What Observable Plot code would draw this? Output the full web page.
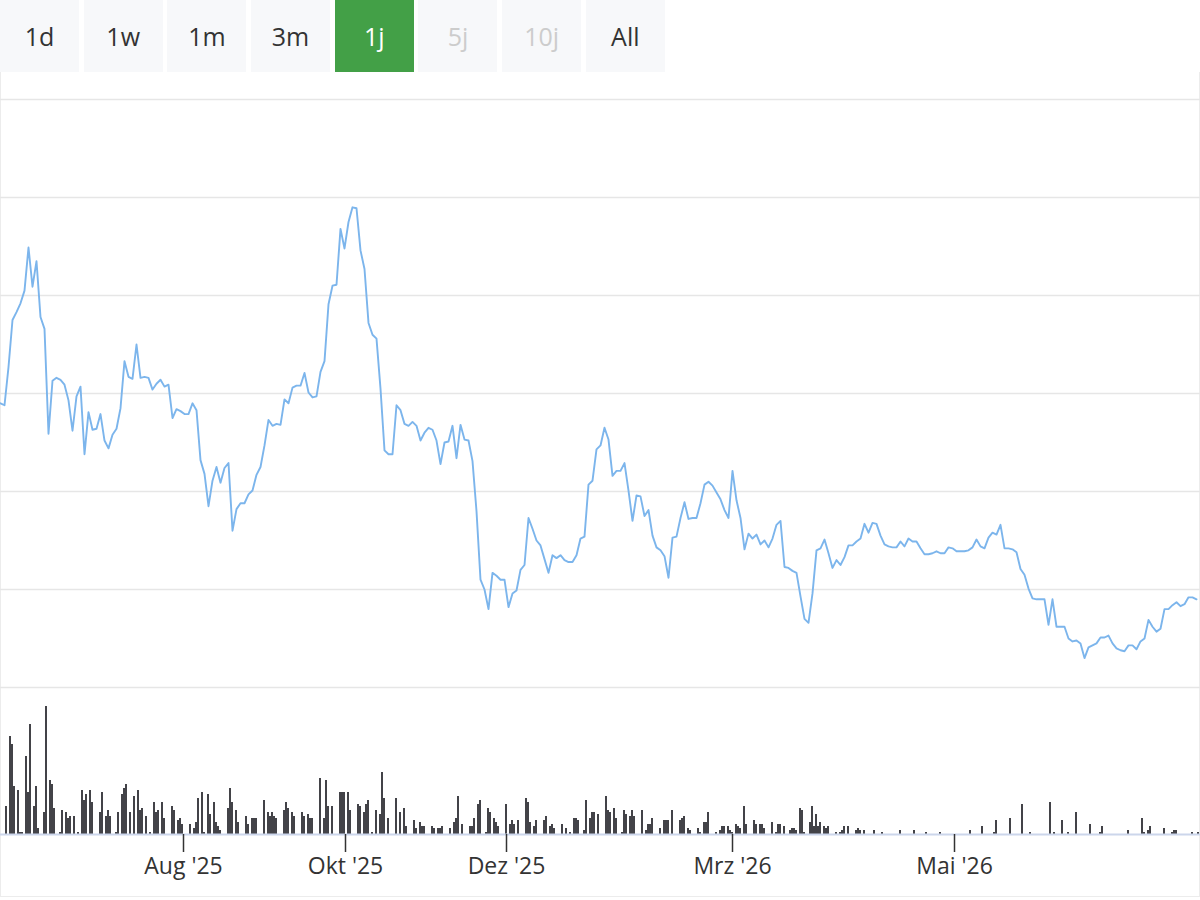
<!DOCTYPE html>
<html><head><meta charset="utf-8">
<script src="https://cdn.jsdelivr.net/npm/d3@7"></script>
<script src="https://cdn.jsdelivr.net/npm/@observablehq/plot@0.6"></script>
<style>
body{margin:0;background:#fff;font-family:"Open Sans","Noto Sans",sans-serif;}
#wrap{position:relative;width:1200px;height:900px;overflow:hidden;}
.btns{position:absolute;left:0;top:0;display:flex;gap:4.7px;}
.btn{width:79px;height:72px;background:#f7f8fa;color:#333;font-size:25px;display:flex;align-items:center;justify-content:center;}
.btn.active{background:#43a047;color:#fff;}
.btn.disabled{color:#cccccc;}
#frame{position:absolute;left:0;top:72px;width:1198px;height:824px;border:1px solid #ececec;border-top:none;}
#price{position:absolute;left:0;top:80px;}
#volume{position:absolute;left:0;top:690px;}
</style></head>
<body>
<div id="wrap">
  <div id="frame"></div>
  <div class="btns" id="btns"></div>
  <div id="price"></div>
  <div id="volume"></div>
</div>
<script>
const rangeButtons = ["1d","1w","1m","3m","1j","5j","10j","All"];
const activeButton = "1j";
const disabledButtons = ["5j","10j"];

// closing price, one value every second trading session
const closes = [
69.0,68.8,72.7,77.5,78.3,79.2,80.5,84.9,80.9,83.5,77.8,76.6,65.9,71.3,71.6,
71.4,70.9,69.3,66.2,69.7,70.7,63.8,68.1,66.3,66.4,67.9,65.2,64.4,65.8,66.4,
68.5,73.3,71.7,71.5,75.0,71.6,71.7,71.6,70.4,71.0,71.4,70.7,70.9,67.5,68.4,
68.2,67.9,67.9,69.0,68.3,63.2,61.8,58.5,61.1,62.5,60.9,62.4,62.9,56.0,58.2,
58.8,58.8,59.7,60.1,61.7,62.5,64.7,67.3,66.7,66.9,66.8,69.4,69.0,70.6,70.8,
70.8,72.1,70.1,69.6,69.7,72.2,73.3,79.1,81.0,81.1,86.8,84.8,87.5,89.0,88.9,
84.6,82.7,77.2,76.0,75.6,70.5,64.2,63.8,63.8,68.8,68.3,66.9,66.7,67.1,66.7,
65.2,66.0,66.5,66.3,65.2,62.8,65.0,65.1,66.7,63.4,66.8,65.3,65.2,63.1,58.0,
51.0,50.0,48.0,51.7,51.4,51.0,51.0,48.2,49.6,49.9,52.0,52.5,57.3,56.2,55.0,
54.5,53.1,51.7,53.5,53.2,53.5,53.0,52.8,52.8,53.5,55.2,55.4,60.7,61.1,64.3,
64.7,66.5,65.3,61.6,62.1,62.1,62.9,60.1,57.0,59.6,59.5,57.5,58.1,55.5,54.3,
54.0,53.4,51.2,55.3,55.4,57.3,58.9,57.2,57.3,57.3,58.8,60.7,61.0,60.6,59.9,
59.2,58.1,57.3,62.1,59.1,57.3,54.1,55.7,55.2,55.6,54.6,55.0,54.3,55.2,56.6,
57.0,52.3,52.2,51.9,51.7,49.3,47.0,46.6,49.6,54.0,54.2,55.1,53.7,52.2,53.0,
52.5,53.3,54.5,54.5,54.9,55.2,56.7,55.8,56.8,56.7,55.5,54.6,54.4,54.3,54.3,
54.9,54.4,55.2,54.9,54.9,54.2,53.6,53.6,53.7,53.9,53.7,53.7,54.3,54.2,53.9,
53.9,53.9,54.0,54.3,55.1,54.4,54.2,55.3,55.8,55.6,56.6,54.2,54.2,54.1,53.8,
52.1,51.5,50.1,49.1,49.0,49.0,49.0,46.4,49.0,46.2,46.2,46.2,45.0,44.7,44.8,
44.5,43.0,44.1,44.3,44.5,45.1,45.1,45.3,44.5,44.0,43.8,43.7,44.3,44.3,43.9,
44.7,45.0,46.9,46.2,45.7,46.0,48.0,48.0,48.4,48.7,48.3,48.5,49.2,49.2,49.0
];

// traded volume per session
const volumes = [
0,0,0,28,0,98,90,48,0,44,2,2,0,78,42,110,0,28,48,6,
0,0,22,128,0,54,50,26,0,0,2,24,0,22,16,18,0,18,0,2,
0,44,34,40,0,44,32,0,0,0,22,42,0,18,24,18,0,0,2,22,
0,40,46,50,0,22,0,38,0,44,24,26,0,18,0,2,0,32,22,24,
0,32,16,0,0,0,28,24,0,14,16,10,0,0,0,10,0,6,12,36,
0,42,2,0,40,20,0,32,12,8,4,0,0,0,26,46,32,0,24,12,
0,0,0,18,10,0,16,16,16,0,0,0,34,0,22,18,22,18,16,0,
0,0,24,32,26,0,22,18,0,0,0,22,18,0,20,16,16,0,0,0,
56,0,16,54,28,0,28,0,0,0,42,42,42,0,42,24,0,0,0,30,
28,0,22,30,34,0,2,0,24,0,20,62,36,0,16,0,0,0,36,0,
22,0,26,8,0,0,0,14,6,0,12,8,8,0,0,0,8,6,0,6,
6,8,0,0,0,6,0,12,16,38,0,10,0,0,0,8,8,16,0,30,
34,0,0,2,26,22,0,16,12,8,0,0,0,30,0,10,14,10,0,14,
0,0,0,36,32,12,0,8,14,0,0,0,14,18,0,8,10,6,0,0,
0,10,0,6,0,2,0,16,16,14,0,0,4,34,0,16,22,22,0,20,
0,0,0,38,24,22,0,26,16,0,0,2,24,20,0,18,24,18,0,0,
0,24,0,4,10,10,16,0,0,0,6,0,14,14,14,0,24,0,0,0,
14,16,18,0,6,4,0,0,0,6,2,0,12,12,22,0,0,0,2,0,
4,8,8,0,8,4,2,0,10,8,6,0,28,10,0,0,0,14,10,0,
10,10,6,0,0,0,12,0,2,10,10,0,8,0,0,4,6,6,4,0,
26,24,2,0,0,12,28,8,20,8,12,0,8,6,8,0,0,0,2,0,
2,4,8,0,8,0,0,0,4,6,4,0,4,0,0,0,0,4,0,0,
0,2,0,0,0,0,0,0,0,0,4,0,0,0,0,0,0,4,0,0,
0,0,0,2,0,0,0,0,0,0,2,0,0,0,0,0,0,0,0,0,
0,0,0,0,0,4,0,0,0,0,0,8,0,0,0,0,0,2,14,0,
0,0,0,0,0,16,0,0,0,0,0,30,0,0,0,2,0,0,0,0,
0,0,0,0,0,32,0,2,0,0,0,14,0,0,2,0,0,0,22,0,
0,0,0,0,0,10,0,0,0,0,2,8,0,0,0,0,0,0,0,0,
0,0,0,0,4,0,0,0,0,0,0,16,2,0,4,8,0,0,0,0,
0,0,6,0,0,0,2,4,4,0,0,0,0,0,0,0,2,0,0,2
];

const tickSessions = [91.5, 172.5, 253, 366, 477];
const tickLabels = ["Aug '25", "Okt '25", "Dez '25", "Mrz '26", "Mai '26"];
const priceGrid = [40, 50, 60, 70, 80, 90, 100];

// buttons
const btns = document.getElementById("btns");
for (const b of rangeButtons) {
  const el = document.createElement("div");
  el.className = "btn" + (b === activeButton ? " active" : "") + (disabledButtons.includes(b) ? " disabled" : "");
  el.textContent = b;
  btns.appendChild(el);
}

const font = '"Open Sans", "Noto Sans", sans-serif';
const sessionCount = volumes.length;

const price = Plot.plot({
  width: 1200, height: 620,
  marginTop: 19, marginBottom: 13, marginLeft: 0, marginRight: 0,
  x: {domain: [0, sessionCount], axis: null},
  y: {domain: [40, 100], axis: null},
  style: {background: "transparent", fontFamily: font},
  marks: [
    Plot.ruleY(priceGrid, {stroke: "#e6e6e6", strokeWidth: 1.5}),
    Plot.line(closes, {x: (d, k) => 2 * k, y: d => d, stroke: "#7cb5ec", strokeWidth: 1.9})
  ]
});
document.getElementById("price").appendChild(price);

const labelBySession = new Map(tickSessions.map((s, i) => [s, tickLabels[i]]));
const volume = Plot.plot({
  width: 1200, height: 210,
  marginTop: 10, marginBottom: 66, marginLeft: 0, marginRight: 0,
  x: {domain: [0, sessionCount], axis: null},
  y: {domain: [0, 134], axis: null},
  style: {background: "transparent", fontFamily: font, overflow: "visible"},
  marks: [
    Plot.rect(volumes, {x1: (d, i) => i - 0.45, x2: (d, i) => i + 0.4, y1: 0, y2: d => d, fill: "#434348", shapeRendering: "crispEdges"}),
    Plot.ruleY([0], {stroke: "#ccd6eb", strokeWidth: 2}),
    Plot.axisX(tickSessions, {
      tickSize: 18, tickPadding: 5, stroke: "#333", strokeWidth: 1.5,
      fill: "#333", fontSize: 23, tickFormat: d => labelBySession.get(d)
    })
  ]
});
document.getElementById("volume").appendChild(volume);
</script>
</body></html>
